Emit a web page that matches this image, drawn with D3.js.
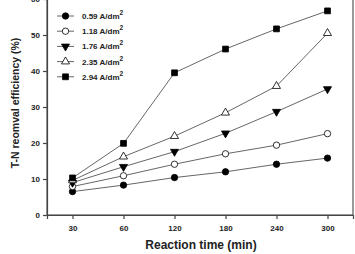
<!DOCTYPE html>
<html>
<head>
<meta charset="utf-8">
<script src="https://cdn.jsdelivr.net/npm/d3@7"></script>
<style>
  body { margin: 0; background: #fff; }
  text { font-family: Arial, "Liberation Sans", sans-serif; font-weight: bold; fill: #222; }
</style>
</head>
<body>
<svg id="chart" width="355" height="254"></svg>
<script>
const times = ["30", "60", "120", "180", "240", "300"];
const densities = ["0.59", "1.18", "1.76", "2.35", "2.94"];
const s059 = [6.5, 8.3, 10.4, 12.0, 14.1, 15.8];
const s118 = [7.9, 10.9, 14.1, 17.0, 19.4, 22.6];
const s176 = [9.0, 13.4, 17.6, 22.7, 28.7, 35.0];
const s235 = [9.6, 16.2, 21.9, 28.4, 35.8, 50.5];
const s294 = [10.3, 19.9, 39.5, 46.1, 51.7, 56.7];
const yTicks = [0, 10, 20, 30, 40, 50, 60];

const seriesList = [s059, s118, s176, s235, s294];
const symbols = [
  {type: d3.symbolCircle, fill: "#000", size: 32},
  {type: d3.symbolCircle, fill: "#fff", size: 32},
  {type: "tri-down", fill: "#000", size: 28},
  {type: d3.symbolTriangle, fill: "#fff", size: 28},
  {type: d3.symbolSquare, fill: "#000", size: 34}
];

const svg = d3.select("#chart");
const plotL = 47, plotR = 353, plotT = -1, plotB = 215;

const x = d3.scalePoint().domain(times).range([plotL, plotR]).padding(0.5);
const y = d3.scaleLinear().domain([0, 60]).range([plotB, plotT]);

// frame
svg.append("rect")
  .attr("x", plotL).attr("y", plotT)
  .attr("width", plotR - plotL).attr("height", plotB - plotT)
  .attr("fill", "none").attr("stroke", "#555").attr("stroke-width", 1.2);

// axes
const yAxis = svg.append("g")
  .attr("transform", `translate(${plotL},0)`)
  .call(d3.axisLeft(y).tickValues(yTicks).tickSize(4).tickPadding(3));
const xAxis = svg.append("g")
  .attr("transform", `translate(0,${plotB})`)
  .call(d3.axisBottom(x).tickSize(4).tickPadding(6));
[xAxis, yAxis].forEach(a => {
  a.select(".domain").attr("stroke", "#444").attr("stroke-width", 1.2);
  a.selectAll(".tick line").attr("stroke", "#444").attr("stroke-width", 1.2);
  a.selectAll("text").attr("font-size", 8).style("font-family", "Arial, 'Liberation Sans', sans-serif").style("font-weight", "bold").attr("fill", "#222");
});

function symPath(s) {
  if (s.type === "tri-down") {
    return d3.symbol().type(d3.symbolTriangle).size(s.size)();
  }
  return d3.symbol().type(s.type).size(s.size)();
}

const line = d3.line().x((d, i) => x(times[i])).y(d => y(d));

seriesList.forEach((vals, k) => {
  svg.append("path")
    .attr("d", line(vals))
    .attr("fill", "none")
    .attr("stroke", "#555")
    .attr("stroke-width", 0.9);
});
seriesList.forEach((vals, k) => {
  const s = symbols[k];
  svg.append("g").selectAll("path")
    .data(vals)
    .join("path")
    .attr("d", symPath(s))
    .attr("transform", (d, i) => `translate(${x(times[i])},${y(d)})` + (s.type === "tri-down" ? " rotate(180)" : ""))
    .attr("fill", s.fill)
    .attr("stroke", "#000")
    .attr("stroke-width", 0.8);
});

// legend
const leg = svg.append("g");
densities.forEach((d, k) => {
  const yy = 16 + k * 15.2;
  const s = symbols[k];
  leg.append("line").attr("x1", 57).attr("x2", 74).attr("y1", yy).attr("y2", yy)
    .attr("stroke", "#555").attr("stroke-width", 0.9);
  leg.append("path").attr("d", symPath(s))
    .attr("transform", `translate(65.5,${yy})` + (s.type === "tri-down" ? " rotate(180)" : ""))
    .attr("fill", s.fill).attr("stroke", "#000").attr("stroke-width", 0.8);
  const t = leg.append("text").attr("x", 82).attr("y", yy + 3).attr("font-size", 8);
  t.append("tspan").text(`${d} A/dm`);
  t.append("tspan").attr("dy", -4).attr("font-size", 6.5).text("2");
});

// axis titles
svg.append("text")
  .attr("x", 201).attr("y", 249)
  .attr("text-anchor", "middle").attr("font-size", 12)
  .text("Reaction time (min)");
svg.append("text")
  .attr("transform", `translate(19,103) rotate(-90)`)
  .attr("text-anchor", "middle").attr("font-size", 10.5)
  .text("T-N reomval efficiency (%)");
</script>
</body>
</html>
